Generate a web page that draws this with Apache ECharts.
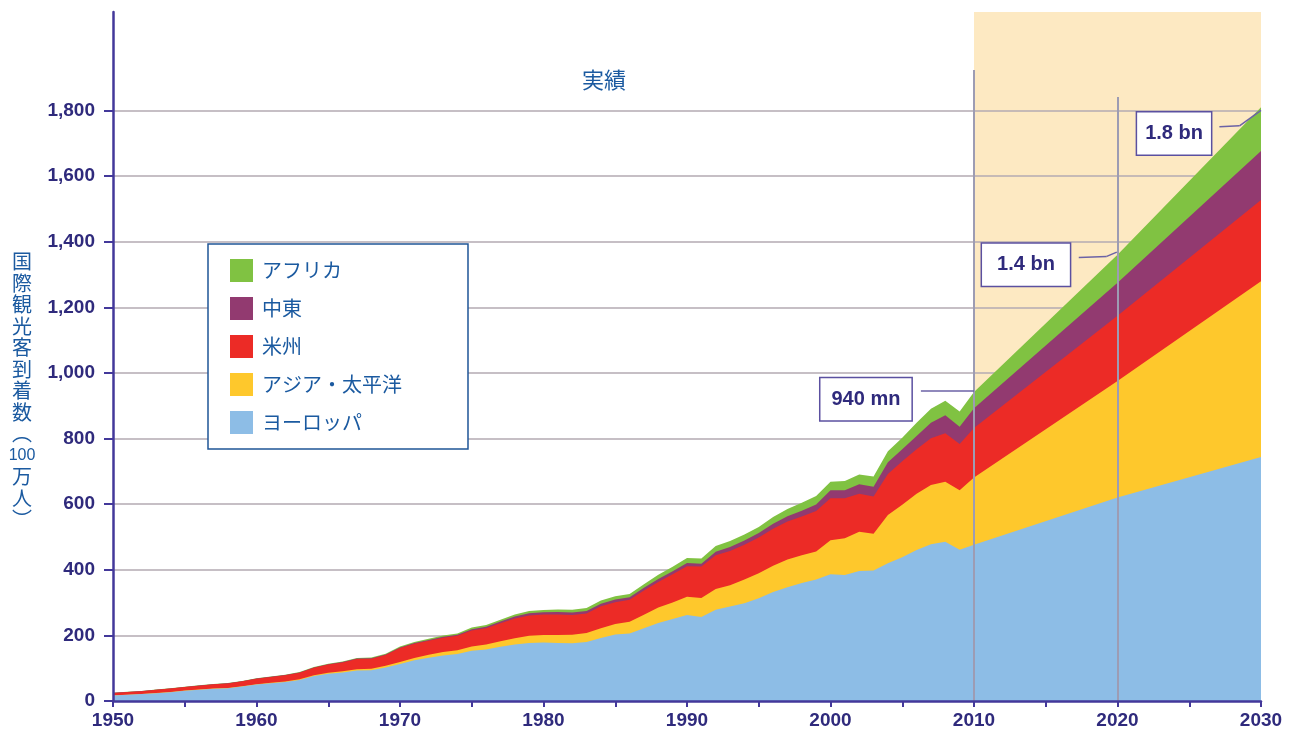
<!DOCTYPE html>
<html>
<head>
<meta charset="utf-8">
<title>国際観光客到着数</title>
<script src="https://cdn.jsdelivr.net/npm/echarts@6/dist/echarts.min.js"></script>
<style>
html, body { margin: 0; padding: 0; background: #fff; }
#main { width: 1293px; height: 734px; }
</style>
</head>
<body>
<div id="main"></div>
<script>
// 年（1950〜2010は実績、2020・2030は見通し）
var years = [1950, 1951, 1952, 1953, 1954, 1955, 1956, 1957, 1958, 1959,
  1960, 1961, 1962, 1963, 1964, 1965, 1966, 1967, 1968, 1969,
  1970, 1971, 1972, 1973, 1974, 1975, 1976, 1977, 1978, 1979,
  1980, 1981, 1982, 1983, 1984, 1985, 1986, 1987, 1988, 1989,
  1990, 1991, 1992, 1993, 1994, 1995, 1996, 1997, 1998, 1999,
  2000, 2001, 2002, 2003, 2004, 2005, 2006, 2007, 2008, 2009,
  2010, 2020, 2030];

// 地域別（100万人）
var europe = [17, 19, 21, 24, 27, 31, 34, 37, 39, 44,
  50, 54, 58, 64, 76, 83, 87, 93, 94, 102,
  113, 124, 132, 139, 143, 153, 157, 165, 172, 177,
  178, 177, 176, 180, 192, 203, 206, 222, 238, 250,
  262, 256, 278, 288, 298, 313, 332, 347, 360, 370,
  386, 384, 396, 398, 420, 438, 460, 478, 485, 461,
  476, 620, 744];
var asiaPacific = [0.2, 0.3, 0.4, 0.5, 0.6, 0.7, 0.8, 0.9, 0.9, 0.9,
  1.0, 1.3, 1.7, 2.2, 2.6, 3.0, 3.5, 4.1, 4.6, 5.3,
  6.2, 7.2, 8.6, 10, 11.5, 13, 14.9, 17, 19.5, 21.5,
  23, 24.5, 26, 27.5, 29.5, 32, 35.5, 41, 47, 50,
  56, 58, 63, 65, 72, 76, 80, 84, 84, 86,
  104, 112, 120, 112, 147, 160, 172, 180, 183, 181,
  205, 355, 535];
var americas = [7.5, 8, 8.5, 9.5, 10.2, 11, 12, 13, 13.4, 15,
  16.7, 17.8, 18.5, 20, 22.5, 25, 27, 31, 30.5, 33,
  42.3, 43.5, 43, 44, 44, 49, 50, 55, 60, 62,
  62.3, 62, 60, 59, 67, 66, 67, 74, 78, 86,
  93, 96, 103, 104, 106, 109, 113, 116, 118, 123,
  128, 122, 116, 113, 125, 133, 135, 143, 148, 141,
  151, 199, 248];
var middleEast = [0.2, 0.2, 0.2, 0.3, 0.3, 0.3, 0.4, 0.4, 0.5, 0.5,
  0.6, 0.7, 0.8, 0.9, 1.0, 1.1, 1.2, 1.2, 1.3, 1.6,
  1.9, 2.3, 2.7, 3.0, 3.5, 4.0, 4.5, 5.2, 6.0, 6.6,
  7.1, 7.6, 7.9, 8.0, 8.2, 8.5, 8.0, 8.4, 9.0, 9.3,
  9.6, 8.5, 11, 12, 13, 13.7, 15, 16, 18, 20,
  24, 24.5, 29, 30, 36, 36, 41, 47, 55, 53,
  60, 101, 149];
var africa = [0.5, 0.5, 0.5, 0.6, 0.6, 0.6, 0.7, 0.7, 0.7, 0.8,
  0.8, 0.9, 1.0, 1.1, 1.3, 1.4, 1.6, 1.8, 2.0, 2.2,
  2.4, 2.8, 3.3, 3.7, 4.0, 4.7, 5.2, 5.8, 6.4, 7.0,
  7.2, 8.0, 8.5, 9.0, 9.5, 9.7, 9.5, 10.5, 12.5, 13.8,
  15.2, 16.2, 17.5, 18.5, 18.5, 18.9, 21, 22.5, 24.5, 26,
  26.2, 28, 29, 31, 33, 35.4, 40, 43, 44.4, 46,
  50, 85, 134];

var yTicks = [0, 200, 400, 600, 800, 1000, 1200, 1400, 1600, 1800];
var gridValues = [200, 400, 600, 800, 1000, 1200, 1400, 1600, 1800];

var blueText = '#1b5aa0';
var navy = '#2f2a7c';
var axisColor = '#43389a';
var numFont = '"Liberation Sans", Arial, sans-serif';
var jpFont = '"Noto Sans CJK JP", sans-serif';

// 積み上げ（下から ヨーロッパ→アジア・太平洋→米州→中東→アフリカ）
var layers = [europe, asiaPacific, americas, middleEast, africa];
var running = years.map(function () { return 0; });
var cumulative = layers.map(function (arr) {
  running = running.map(function (v, i) { return v + arr[i]; });
  return running.slice();
});

function pairs(arr) {
  return years.map(function (y, i) { return [y, arr[i]]; });
}

function areaSeries(name, arr, color) {
  return {
    name: name,
    type: 'line',
    data: pairs(arr),
    symbol: 'none',
    lineStyle: { width: 0 },
    itemStyle: { color: color },
    areaStyle: { color: color, opacity: 1, origin: 'start' },
    emphasis: { disabled: true },
    silent: true
  };
}

var sEurope = areaSeries('ヨーロッパ', cumulative[0], '#8dbde6');
var sAsia = areaSeries('アジア・太平洋', cumulative[1], '#fec82c');
var sAmericas = areaSeries('米州', cumulative[2], '#ec2b26');
var sMiddleEast = areaSeries('中東', cumulative[3], '#923a70');
var sAfrica = areaSeries('アフリカ', cumulative[4], '#80c242');

// 見通し部分の背景と目盛線（系列の後ろ）
sAfrica.markArea = {
  silent: true,
  z: 0,
  itemStyle: { color: '#fde9c2' },
  data: [[{ xAxis: 2010 }, { xAxis: 2030 }]]
};
sAfrica.markLine = {
  silent: true,
  z: 1,
  symbol: ['none', 'none'],
  label: { show: false },
  lineStyle: { color: '#b3aab2', width: 1.5, type: 'solid' },
  data: gridValues.map(function (v) { return { yAxis: v }; })
};

// 縦線と吹き出しの引き出し線（系列の前）
var lineStyleV = { color: '#9d9cb3', width: 2, type: 'solid' };
var lineStyleC = { color: '#6b62a6', width: 1.5, type: 'solid' };
sEurope.markLine = {
  silent: true,
  z: 6,
  symbol: ['none', 'none'],
  label: { show: false },
  data: [
    [{ coord: [2010, 1923], lineStyle: lineStyleV }, { coord: [2010, 0] }],
    [{ coord: [2020, 1841], lineStyle: lineStyleV }, { coord: [2020, 0] }],
    [{ coord: [2006.3, 946], lineStyle: lineStyleC }, { coord: [2010, 946] }],
    [{ coord: [2017.3, 1352], lineStyle: lineStyleC }, { coord: [2019.25, 1355] }],
    [{ coord: [2019.25, 1355], lineStyle: lineStyleC }, { coord: [2019.95, 1368] }],
    [{ coord: [2027.1, 1750], lineStyle: lineStyleC }, { coord: [2028.5, 1753] }],
    [{ coord: [2028.5, 1753], lineStyle: lineStyleC }, { coord: [2030, 1800] }]
  ]
};

function boxLabel(text, padH) {
  return {
    show: true,
    position: 'inside',
    formatter: text,
    color: navy,
    fontSize: 20,
    fontWeight: 'bold',
    fontFamily: numFont,
    backgroundColor: '#fff',
    borderColor: '#5b50a0',
    borderWidth: 1.5,
    padding: [11, padH, 11, padH]
  };
}
sEurope.markPoint = {
  silent: true,
  z: 7,
  symbol: 'rect',
  symbolSize: 1,
  itemStyle: { color: 'rgba(0,0,0,0)' },
  data: [
    { coord: [2002.47, 920], label: boxLabel('940 mn', 11) },
    { coord: [2013.62, 1330], label: boxLabel('1.4 bn', 15) },
    { coord: [2023.94, 1730], label: boxLabel('1.8 bn', 8) }
  ]
};

var chart = echarts.init(document.getElementById('main'));
chart.setOption({
  animation: false,
  backgroundColor: '#fff',
  grid: { left: 113, right: 32, top: 12, bottom: 33, containLabel: false, outerBoundsMode: 'none' },
  legend: {
    orient: 'vertical',
    left: 208,
    top: 244,
    padding: [15, 66, 15, 22],
    itemWidth: 23,
    itemHeight: 23,
    itemGap: 15,
    icon: 'rect',
    backgroundColor: '#fff',
    borderColor: '#1f5597',
    borderWidth: 1.5,
    borderRadius: 0,
    selectedMode: false,
    textStyle: { color: blueText, fontSize: 20, fontFamily: jpFont, padding: [0, 0, 0, 4] },
    data: ['アフリカ', '中東', '米州', 'アジア・太平洋', 'ヨーロッパ']
  },
  xAxis: {
    type: 'value',
    min: 1950,
    max: 2030,
    interval: 5,
    z: 10,
    axisLine: { show: true, lineStyle: { color: axisColor, width: 2.5 } },
    axisTick: { show: true, length: 6, lineStyle: { color: axisColor, width: 2 } },
    axisLabel: {
      margin: 10,
      color: navy,
      fontSize: 19,
      fontWeight: 'bold',
      fontFamily: numFont,
      formatter: function (v) { return v % 10 === 0 ? String(v) : ''; }
    },
    splitLine: { show: false }
  },
  yAxis: {
    type: 'value',
    min: 0,
    max: 2100,
    interval: 200,
    z: 10,
    axisLine: { show: true, lineStyle: { color: axisColor, width: 2.5 } },
    axisTick: { show: true, length: 9, customValues: yTicks, lineStyle: { color: axisColor, width: 2 } },
    axisLabel: {
      customValues: yTicks,
      margin: 18,
      color: navy,
      fontSize: 19,
      fontWeight: 'bold',
      fontFamily: numFont,
      formatter: function (v) { return v > 1800 ? '' : v.toLocaleString('en-US'); }
    },
    splitLine: { show: false }
  },
  graphic: [
    {
      type: 'text',
      x: 22,
      y: 251,
      style: {
        text: '国\n際\n観\n光\n客\n到\n着\n数\n︵\n{n|100}\n万\n人\n︶',
        align: 'center',
        verticalAlign: 'top',
        fill: blueText,
        fontSize: 20,
        lineHeight: 21.5,
        fontFamily: jpFont,
        rich: { n: { fontSize: 16, fontFamily: numFont, fill: blueText, lineHeight: 21.5 } }
      }
    },
    {
      type: 'text',
      x: 604,
      y: 80,
      style: { text: '実績', align: 'center', verticalAlign: 'middle', fill: blueText, fontSize: 22, fontFamily: jpFont }
    },
    {
      type: 'text',
      x: 1118,
      y: 80,
      style: { text: '見通し', align: 'center', verticalAlign: 'middle', fill: blueText, fontSize: 22, fontFamily: jpFont }
    }
  ],
  // 大きい累計から先に描き、小さい累計で上から重ねる
  series: [sAfrica, sMiddleEast, sAmericas, sAsia, sEurope]
});
</script>
</body>
</html>
